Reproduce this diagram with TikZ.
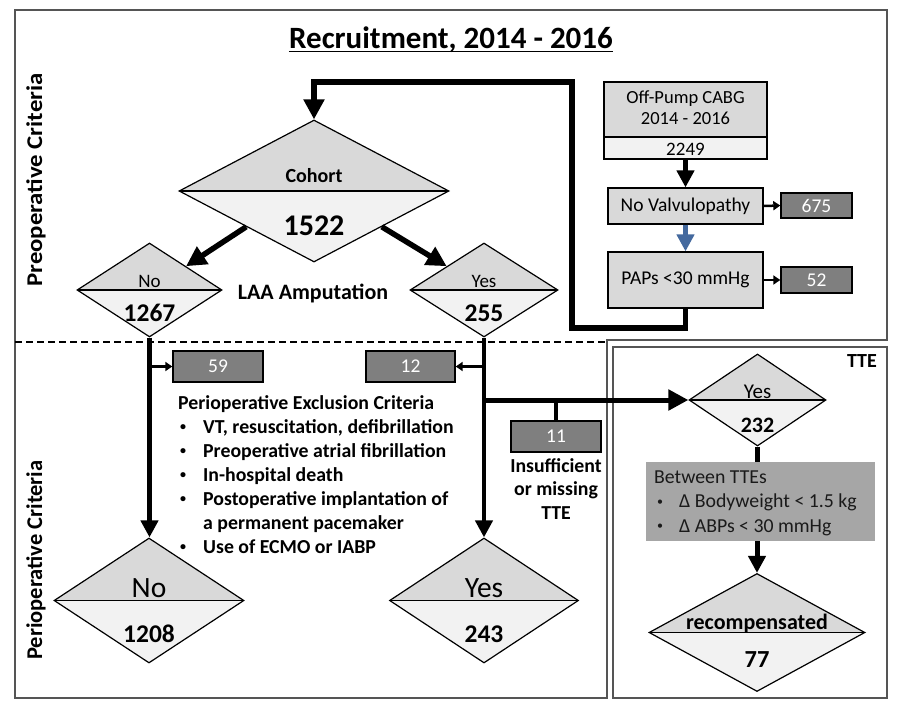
\documentclass[tikz,border=0pt]{standalone}
\usepackage{fontspec}
\setmainfont{Carlito}
\usetikzlibrary{shapes.geometric,arrows.meta,calc}
\definecolor{topfill}{HTML}{D9D9D9}
\definecolor{lowfill}{HTML}{F2F2F2}
\definecolor{darkbox}{HTML}{7F7F7F}
\definecolor{midbox}{HTML}{A6A6A6}
\definecolor{framecol}{HTML}{555555}
\definecolor{bluearrow}{HTML}{44699E}
\definecolor{txtdark}{HTML}{1A1A1A}
\newcommand\fsz[2]{\fontsize{#1}{#2}\selectfont}
\newcommand\smbul{\raisebox{2.3pt}{\fsz{12}{12}\textbullet}}
\tikzset{
 halfdiamond/.style={diamond, draw=black, line width=1.2pt, inner sep=0pt, fill=lowfill,
   path picture={\fill[topfill] (path picture bounding box.north west) rectangle (path picture bounding box.east);
                 \draw[line width=1.2pt] (path picture bounding box.west) -- (path picture bounding box.east);}},
 graybox/.style={rectangle, draw=black, line width=1.2pt, fill=topfill, inner sep=0pt, font=\fsz{19.5}{22}},
 countbox/.style={rectangle, draw=black, line width=1.4pt, fill=darkbox, text=white, inner sep=0pt, font=\fsz{19.5}{22}},
 bigarrow/.style={line width=5.5pt, -{Triangle[length=20pt,width=20pt]}},
 midarrow/.style={line width=4.5pt, -{Triangle[length=17pt,width=17pt]}},
 smallarrow/.style={line width=2.5pt, -{Triangle[length=7pt,width=9pt]}},
 thickline/.style={line width=4.5pt},
 frame/.style={draw=framecol, line width=1.4pt},
 txt/.style={inner sep=0pt, anchor=base},
}
\begin{document}
\begin{tikzpicture}[x=1pt,y=-1pt]
\useasboundingbox[fill=white] (0,0) rectangle (902,712);
% frames
\draw[frame] (607,340) -- (887,340) -- (887,10) -- (15,10) -- (15,698) -- (607,698) -- cycle;
\draw[frame] (613,347) rectangle (887,698);
\draw[line width=1.3pt, dash pattern=on 7pt off 4pt] (15,342) -- (607,342);

% title
\node[txt, font=\fsz{31}{36}\bfseries] (title) at (451,48) {Recruitment, 2014 - 2016};
\draw[line width=1.5pt] ([yshift=-3.5pt]title.base west) -- ([yshift=-3.5pt]title.base east);

% side labels
\node[rotate=90, font=\fsz{22.5}{26}\bfseries] (preop) at (36,180) {\scalebox{1.1}[1]{Preoperative Criteria}};
\node[rotate=90, font=\fsz{22.5}{26}\bfseries] (periop) at (36,560) {Perioperative Criteria};

% right column boxes
\node[graybox, minimum width=163pt, minimum height=55pt] (cabg) at (685.5,109.5) {};
\node[txt, font=\fsz{18.5}{21}] (cabgT) at (685.5,103) {Off-Pump CABG};
\node[txt, font=\fsz{18.5}{21}] (cabgY) at (685.5,124) {2014 - 2016};
\node[graybox, fill=lowfill, minimum width=163pt, minimum height=22pt] (cabgn) at (685.5,148) {};
\node[txt, font=\fsz{19}{21}] (cabgN) at (685.5,155.5) {2249};
\node[graybox, minimum width=155pt, minimum height=36pt] (noval) at (685.5,206) {No Valvulopathy};
\node[graybox, minimum width=155pt, minimum height=56pt] (paps) at (685.5,280) {PAPs <30 mmHg};
\node[countbox, minimum width=71pt, minimum height=25pt] (b675) at (816.5,205.5) {675};
\node[countbox, minimum width=71pt, minimum height=26pt] (b52) at (816.5,280) {52};

\draw[midarrow] (cabgn.south) -- (noval.north);
\draw[midarrow, bluearrow] (noval.south) -- (paps.north);
\draw[smallarrow] (noval.east) -- (b675.west);
\draw[smallarrow] (paps.east) -- (b52.west);

% cohort and LAA
\node[halfdiamond, minimum width=270pt, minimum height=142pt] (cohort) at (314,191) {};
\node[txt, font=\fsz{20}{24}\bfseries] (cohortT) at (314,182) {Cohort};
\node[txt, font=\fsz{30}{34}\bfseries] (cohortN) at (314,235) {1522};

\node[halfdiamond, minimum width=145pt, minimum height=94pt] (no1) at (149.5,290) {};
\node[txt, font=\fsz{19}{22}] (no1T) at (149.5,287) {No};
\node[txt, font=\fsz{25.5}{28}\bfseries] (no1N) at (149.5,321) {1267};
\node[halfdiamond, minimum width=148pt, minimum height=94pt] (yes1) at (484,290) {};
\node[txt, font=\fsz{19}{22}] (yes1T) at (484,287) {Yes};
\node[txt, font=\fsz{25.5}{28}\bfseries] (yes1N) at (484,321) {255};
\node[font=\fsz{22}{26}\bfseries] (laa) at (313,293) {LAA Amputation};

\coordinate (loopA) at (572,328);
\coordinate (loopB) at (572,82);
\draw[bigarrow] (paps.south) |- (loopA) -- (loopB) -| (cohort.north);
\draw[bigarrow] (cohort.south west) -- (no1.north east);
\draw[bigarrow] (cohort.south east) -- (yes1.north west);

% perioperative
\node[countbox, minimum width=90pt, minimum height=31pt] (b59) at (218,366.5) {59};
\node[countbox, minimum width=89pt, minimum height=31pt] (b12) at (410.5,366.5) {12};
\node[countbox, minimum width=90pt, minimum height=31pt] (b11) at (556,436.5) {11};

\node[halfdiamond, minimum width=190pt, minimum height=125pt] (no2) at (149,600.5) {};
\node[txt, font=\fsz{29.5}{32}] (no2T) at (149,597) {No};
\node[txt, font=\fsz{25.5}{28}\bfseries] (no2N) at (149,642) {1208};
\node[halfdiamond, minimum width=189pt, minimum height=125pt] (yes2) at (484,600.5) {};
\node[txt, font=\fsz{29.5}{32}] (yes2T) at (484,597) {Yes};
\node[txt, font=\fsz{25.5}{28}\bfseries] (yes2N) at (484,642) {243};

\draw[midarrow] (no1.south) -- (no1.south |- no2.north);
\draw[midarrow] (yes1.south) -- (yes1.south |- yes2.north);
\draw[smallarrow] (no1.south |- b59.west) -- (b59.west);
\draw[smallarrow] (yes1.south |- b12.east) -- (b12.east);

\node[txt, anchor=base west, font=\fsz{19.8}{24}\bfseries] (excl) at (178,409) {\begin{tabular}[t]{@{}l@{}}
Perioperative Exclusion Criteria\\
\hspace*{2pt}\makebox[23pt][l]{\smbul}VT, resuscitation, defibrillation\\
\hspace*{2pt}\makebox[23pt][l]{\smbul}Preoperative atrial fibrillation\\
\hspace*{2pt}\makebox[23pt][l]{\smbul}In-hospital death\\
\hspace*{2pt}\makebox[23pt][l]{\smbul}Postoperative implantation of\\
\hspace*{25pt}a permanent pacemaker\\
\hspace*{2pt}\makebox[23pt][l]{\smbul}Use of ECMO or IABP
\end{tabular}};

\node[txt, font=\fsz{19.8}{23.5}\bfseries] (insuff) at (556,472) {\begin{tabular}[t]{@{}c@{}}Insufficient\\or missing\\TTE\end{tabular}};

% TTE panel
\node[txt, anchor=base east, font=\fsz{20}{24}\bfseries] (tteT) at (877,367) {TTE};
\node[halfdiamond, minimum width=137pt, minimum height=92pt] (tteyes) at (757.5,400) {};
\node[txt, font=\fsz{21}{24}] (tteyesT) at (757.5,398) {Yes};
\node[txt, font=\fsz{22}{26}\bfseries] (tteyesN) at (757.5,432) {232};

\draw[bigarrow, line width=5pt] (yes1.south |- tteyes.west) -- (tteyes.west);
\draw[thickline] (b11.north |- tteyes.west) -- (b11.north);

\node[rectangle, fill=midbox, inner sep=0pt, minimum width=229pt, minimum height=79pt] (ttebox) at (760.5,501.5) {};
\node[txt, anchor=base west, font=\fsz{19.8}{24.5}, text=txtdark] (ttecrit) at (654,483) {\begin{tabular}[t]{@{}l@{}}
Between TTEs\\
\hspace*{3pt}\makebox[22pt][l]{\smbul}Δ Bodyweight < 1.5 kg\\
\hspace*{3pt}\makebox[22pt][l]{\smbul}Δ ABPs < 30 mmHg
\end{tabular}};

\node[halfdiamond, minimum width=216pt, minimum height=118pt] (recomp) at (757,632.5) {};
\node[txt, font=\fsz{22}{26}\bfseries] (recompT) at (757,629) {recompensated};
\node[txt, font=\fsz{24.5}{28}\bfseries] (recompN) at (757,667) {77};

\draw[thickline] (tteyes.south) -- (tteyes.south |- ttebox.north);
\draw[midarrow, line width=5pt] (recomp.north |- ttebox.south) -- (recomp.north);
\end{tikzpicture}
\end{document}
